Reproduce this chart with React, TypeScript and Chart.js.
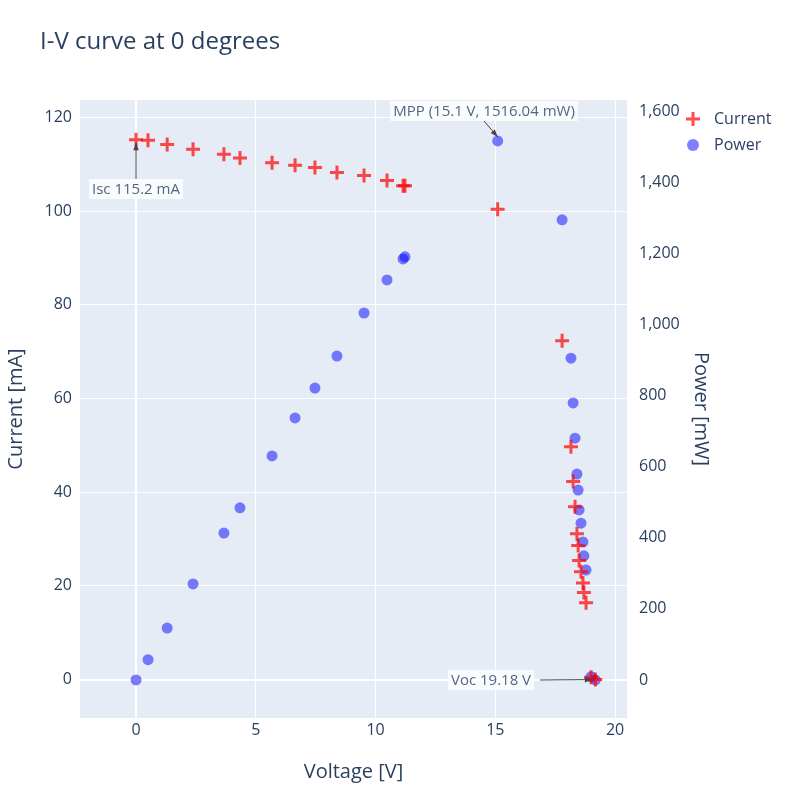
import React, { useEffect, useRef } from "react";
import { Chart, registerables } from "chart.js";
Chart.register(...registerables);

const voltage = [0, 0.5, 1.3, 2.38, 3.67, 4.34, 5.68, 6.64, 7.47, 8.39, 9.52, 10.48, 11.15, 11.23, 15.1, 17.79, 18.16, 18.25, 18.33, 18.41, 18.46, 18.5, 18.58, 18.66, 18.7, 18.79, 19.0, 19.18];
const current = [115.2, 115.1, 114.2, 113.2, 112.1, 111.3, 110.3, 109.8, 109.3, 108.2, 107.6, 106.5, 105.4, 105.4, 100.4, 72.3, 49.7, 42.3, 36.9, 31.1, 28.6, 25.4, 23.0, 20.6, 18.6, 16.4, 0.5, 0];
const power = [0, 57, 146, 270, 413, 484, 630, 737, 821, 911, 1032, 1125, 1184, 1190, 1516.04, 1294, 905, 779, 680, 579, 534, 478, 441, 388, 349, 309, 9, 0];

const FONT = "'Open Sans', 'Noto Sans', sans-serif";
const INK = "#2a3f5f";

export default function App() {
  const ref = useRef<HTMLCanvasElement>(null);
  useEffect(() => {
    const deco = {
      id: "deco",
      beforeDraw(c: any) {
        const { ctx, chartArea: a } = c;
        ctx.save();
        ctx.fillStyle = "#E5ECF6";
        ctx.fillRect(a.left, a.top, a.right - a.left, a.bottom - a.top);
        ctx.restore();
      },
      afterDraw(c: any) {
        const { ctx } = c;
        const x = c.scales.x, y = c.scales.y, y2 = c.scales.y2;
        ctx.save();
        ctx.fillStyle = INK;
        ctx.font = `24px ${FONT}`;
        ctx.textBaseline = "middle";
        ctx.fillText("I-V curve at 0 degrees", 40, 42);
        // legend
        ctx.font = `16px ${FONT}`;
        ctx.strokeStyle = "rgba(255,0,0,0.7)";
        ctx.lineWidth = 3;
        ctx.beginPath();
        ctx.moveTo(686, 119); ctx.lineTo(700, 119);
        ctx.moveTo(693, 112); ctx.lineTo(693, 126);
        ctx.stroke();
        ctx.fillText("Current", 714, 119);
        ctx.fillStyle = "rgba(0,0,255,0.5)";
        ctx.beginPath(); ctx.arc(693, 145, 6, 0, Math.PI * 2); ctx.fill();
        ctx.fillStyle = INK;
        ctx.fillText("Power", 714, 145);
        // annotations
        const ann = (px: number, py: number, tx: number, ty: number, text: string, ax: number, ay: number) => {
          ctx.font = `15px ${FONT}`;
          const w = ctx.measureText(text).width + 6;
          ctx.strokeStyle = "#444"; ctx.lineWidth = 1;
          ctx.beginPath(); ctx.moveTo(ax, ay); ctx.lineTo(px, py); ctx.stroke();
          const ang = Math.atan2(py - ay, px - ax);
          ctx.fillStyle = "#444";
          ctx.beginPath();
          ctx.moveTo(px, py);
          ctx.lineTo(px - 8 * Math.cos(ang - 0.35), py - 8 * Math.sin(ang - 0.35));
          ctx.lineTo(px - 8 * Math.cos(ang + 0.35), py - 8 * Math.sin(ang + 0.35));
          ctx.fill();
          ctx.fillStyle = "rgba(255,255,255,0.8)";
          ctx.fillRect(tx - w / 2, ty - 10, w, 20);
          ctx.fillStyle = "#506784";
          ctx.textAlign = "center";
          ctx.fillText(text, tx, ty + 1);
          ctx.textAlign = "left";
        };
        const mx = x.getPixelForValue(15.1), my = y2.getPixelForValue(1516.04);
        ann(mx, my - 4, 484, 111, "MPP (15.1 V, 1516.04 mW)", 484, 121);
        const ix = x.getPixelForValue(0), iy = y.getPixelForValue(115.2);
        ann(ix, iy + 3, 136, 189, "Isc 115.2 mA", 136, 179);
        const vx = x.getPixelForValue(19.18), vy = y.getPixelForValue(0);
        ann(vx - 3, vy, 491, 680, "Voc 19.18 V", 540, 680);
        ctx.restore();
      },
    };
    const chart = new Chart(ref.current!, {
      type: "scatter",
      data: {
        datasets: [
          {
            label: "Current",
            data: voltage.map((v, i) => ({ x: v, y: current[i] })),
            yAxisID: "y",
            pointStyle: "cross",
            radius: 7,
            borderWidth: 3,
            borderColor: "rgba(255,0,0,0.7)",
            backgroundColor: "rgba(255,0,0,0.7)",
          },
          {
            label: "Power",
            data: voltage.map((v, i) => ({ x: v, y: power[i] })),
            yAxisID: "y2",
            pointStyle: "circle",
            radius: 5.5,
            borderWidth: 0,
            backgroundColor: "rgba(0,0,255,0.5)",
          },
        ],
      },
      options: {
        animation: false,
        responsive: false,
        layout: { padding: { left: 0, right: 83, top: 100, bottom: 12 } },
        plugins: { legend: { display: false }, tooltip: { enabled: false }, title: { display: false } },
        scales: {
          x: {
            type: "linear", min: -2.34, max: 20.5,
            ticks: { stepSize: 5, includeBounds: false, color: INK, font: { family: FONT, size: 16 } },
            grid: { color: (c: any) => "#fff", lineWidth: (c: any) => (c.tick && c.tick.value === 0 ? 2 : 1), drawTicks: false },
            border: { display: false },
            title: { display: true, text: "Voltage [V]", color: INK, font: { family: FONT, size: 20 } },
            afterFit: (s: any) => { s.height = 70; },
          },
          y: {
            type: "linear", position: "left", min: -8.2, max: 123.7,
            ticks: { stepSize: 20, includeBounds: false, color: INK, padding: 8, font: { family: FONT, size: 16 } },
            grid: { color: "#fff", lineWidth: (c: any) => (c.tick && c.tick.value === 0 ? 2 : 1), drawTicks: false },
            border: { display: false },
            title: { display: true, text: "Current [mA]", color: INK, font: { family: FONT, size: 20 } },
            afterFit: (s: any) => { s.width = 80; },
          },
          y2: {
            type: "linear", position: "right", min: -107, max: 1631,
            ticks: { stepSize: 200, includeBounds: false, color: INK, padding: 4, font: { family: FONT, size: 16 } },
            grid: { display: false },
            border: { display: false },
            title: { display: true, text: "Power [mW]", color: INK, font: { family: FONT, size: 20 } },
            afterFit: (s: any) => { s.width = 90; },
          },
        },
      },
      plugins: [deco],
    } as any);
    return () => chart.destroy();
  }, []);
  return (
    <div style={{ position: "fixed", left: 0, top: 0, width: 800, height: 800, background: "#fff" }}>
      <canvas ref={ref} width={800} height={800} />
    </div>
  );
}
